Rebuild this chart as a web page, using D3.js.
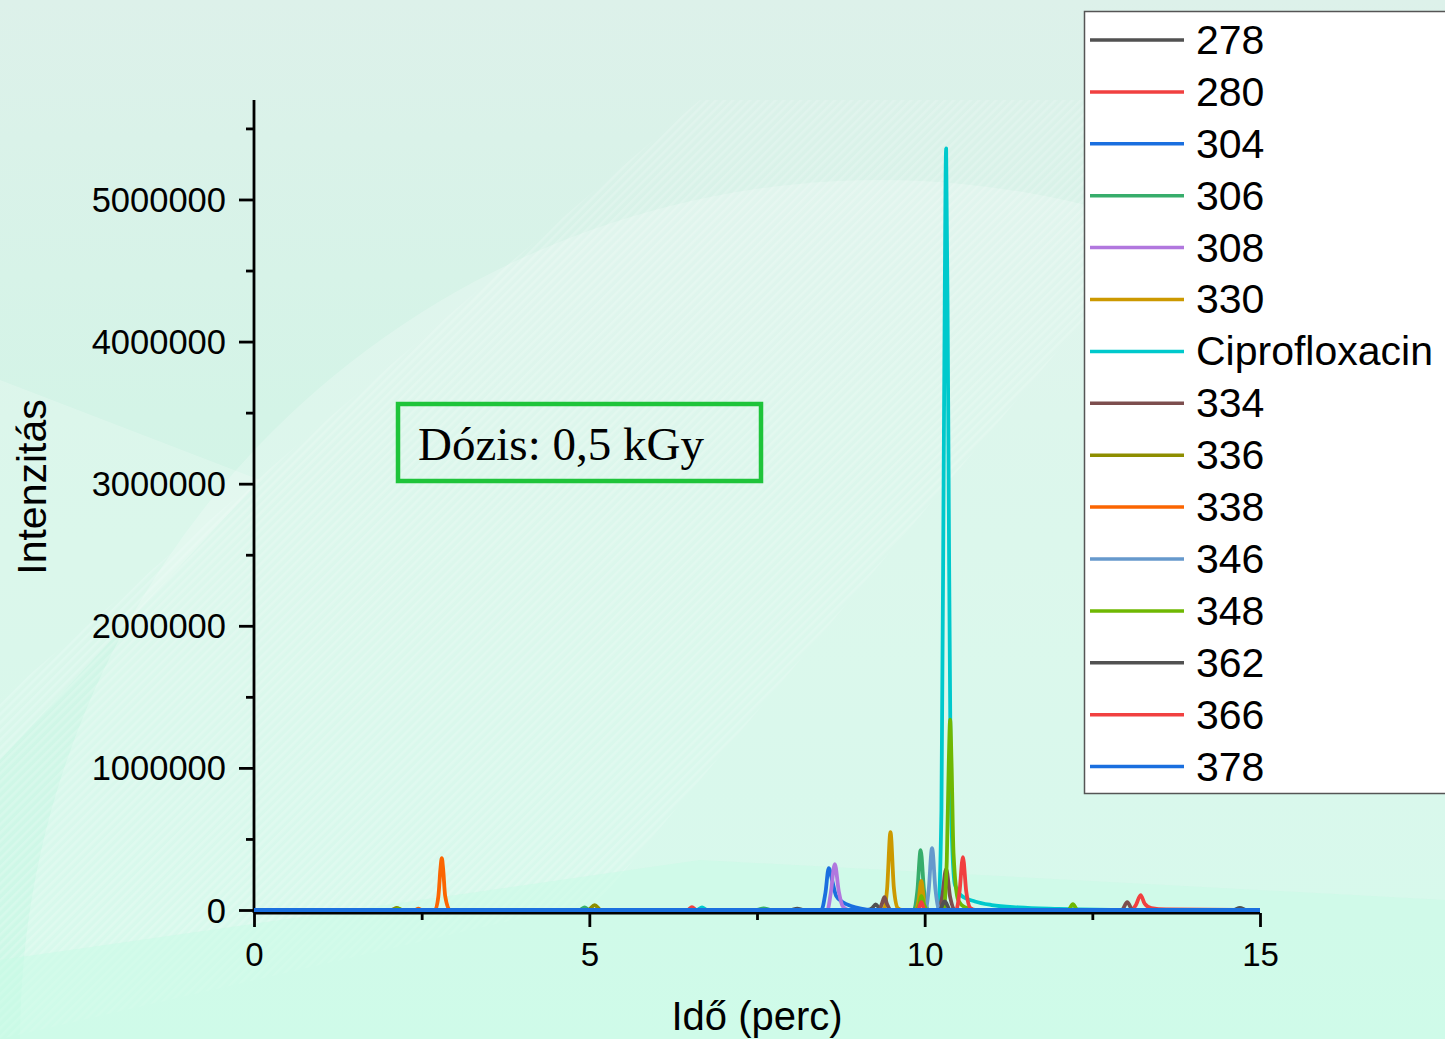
<!DOCTYPE html>
<html><head><meta charset="utf-8">
<script src="https://cdn.jsdelivr.net/npm/d3@7"></script>
<style>html,body{margin:0;padding:0;overflow:hidden;background:#d4f5e9}</style>
</head><body>
<script>
// ---------- DATA ----------
const seriesNames = ["278","280","304","306","308","330","Ciprofloxacin","334","336","338","346","348","362","366","378"];
const seriesColors = ["#515151","#F14040","#1A6FDF","#37AD6B","#B177DE","#CC9900","#00C9CC","#7D4E4E","#8E8E00","#FB6501","#6699CC","#6FB802","#515151","#F14040","#1A6FDF"];
const xTicks = [0,5,10,15];
const xMinor = [2.5,7.5,12.5];
const yTicks = [0,1000000,2000000,3000000,4000000,5000000];
const yMinor = [500000,1500000,2500000,3500000,4500000,5500000];
const annotation = "Dózis: 0,5 kGy";
const xTitle = "Idő (perc)";
const yTitle = "Intenzitás";

// [time (min), intensity]
const s278 = [[0,0],[9.15,0],[9.22,15000],[9.27,40000],[9.32,15000],[9.4,0],[14.6,0],[14.7,15000],[14.8,0],[15,0]];
const s280 = [[0,0],[13.08,0],[13.15,35000],[13.22,105000],[13.28,45000],[13.38,14000],[13.6,4000],[15,0]];
const s304 = [[0,0],[8.46,0],[8.52,120000],[8.57,295000],[8.62,210000],[8.68,100000],[8.78,55000],[8.9,28000],[9.05,9000],[9.2,0],[15,0]];
const s306 = [[0,0],[4.85,0],[4.93,18000],[5.0,0],[7.5,0],[7.6,12000],[7.7,0],[9.84,0],[9.89,130000],[9.94,421000],[9.99,140000],[10.05,0],[15,0]];
const s308 = [[0,0],[8.55,0],[8.6,120000],[8.66,323000],[8.72,130000],[8.78,25000],[8.86,0],[15,0]];
const s330 = [[0,0],[9.39,0],[9.44,150000],[9.49,548000],[9.54,160000],[9.6,12000],[9.66,0],[9.87,0],[9.91,70000],[9.95,204000],[9.99,70000],[10.05,0],[15,0]];
const sCipro = [[0,0],[6.6,0],[6.68,18000],[6.76,0],[10.2,0],[10.25,700000],[10.29,3600000],[10.32,5360000],[10.35,3600000],[10.39,800000],[10.45,180000],[10.55,100000],[10.75,60000],[11.0,35000],[11.4,18000],[12.0,8000],[13.0,0],[15,0]];
const s334 = [[0,0],[9.32,0],[9.36,40000],[9.4,90000],[9.44,40000],[9.5,0],[10.21,0],[10.26,90000],[10.32,288000],[10.38,90000],[10.45,0],[12.94,0],[13.02,56000],[13.1,0],[15,0]];
const s336 = [[0,0],[2.05,0],[2.13,15000],[2.2,0],[4.98,0],[5.08,35000],[5.17,0],[15,0]];
const s338 = [[0,0],[2.4,0],[2.45,10000],[2.5,0],[2.7,0],[2.75,100000],[2.78,290000],[2.8,365000],[2.82,290000],[2.85,100000],[2.92,0],[15,0]];
const s346 = [[0,0],[10.01,0],[10.06,140000],[10.11,435000],[10.16,150000],[10.22,0],[15,0]];
const s348 = [[0,0],[2.08,0],[2.15,8000],[2.22,0],[9.88,0],[9.92,40000],[9.95,100000],[9.99,40000],[10.04,0],[10.28,0],[10.33,350000],[10.36,1050000],[10.38,1340000],[10.4,1050000],[10.43,400000],[10.5,70000],[10.6,20000],[10.8,0],[12.14,0],[12.21,42000],[12.28,0],[15,0]];
const s362 = [[0,0],[8.0,0],[8.1,10000],[8.2,0],[10.22,0],[10.3,60000],[10.38,0],[15,0]];
const s366 = [[0,0],[6.46,0],[6.53,20000],[6.6,0],[9.9,0],[9.95,56000],[10.0,0],[10.47,0],[10.52,130000],[10.57,372000],[10.62,130000],[10.68,15000],[10.76,0],[15,0]];
const s378 = [[0,0],[15,0]];
const seriesData = [s278,s280,s304,s306,s308,s330,sCipro,s334,s336,s338,s346,s348,s362,s366,s378];

// ---------- LAYOUT ----------
const W = 1445, H = 1039;
const svg = d3.select("body").append("svg").attr("width", W).attr("height", H);
const defs = svg.append("defs");

// background
const bg = defs.append("linearGradient").attr("id","bg").attr("x1",0).attr("y1",0).attr("x2",0).attr("y2",1);
bg.append("stop").attr("offset","0%").attr("stop-color","#ddf1ea");
bg.append("stop").attr("offset","40%").attr("stop-color","#d4f4e7");
bg.append("stop").attr("offset","100%").attr("stop-color","#ccf9e7");
svg.append("rect").attr("width",W).attr("height",H).attr("fill","url(#bg)");
const pat = defs.append("pattern").attr("id","hatch").attr("patternUnits","userSpaceOnUse")
  .attr("width",6).attr("height",6).attr("patternTransform","rotate(45)");
pat.append("rect").attr("width",2.5).attr("height",6).attr("fill","#ffffff").attr("opacity",0.35);
svg.append("path").attr("d","M0,700 L700,100 L1100,100 L1100,300 L600,900 L0,1039 Z")
  .attr("fill","url(#hatch)").attr("opacity",0.5);
svg.append("circle").attr("cx",880).attr("cy",1040).attr("r",860).attr("fill","#ffffff").attr("opacity",0.22);
svg.append("path").attr("d","M0,380 L260,480 L0,760 Z").attr("fill","#ffffff").attr("opacity",0.2);
svg.append("path").attr("d","M0,1039 L0,960 L700,860 L1445,900 L1445,1039 Z").attr("fill","#c8fbe6").attr("opacity",0.5);

const x0 = 254, x1 = 1260, yBase = 910, yAxisY = 913, yTop = 100;
const x = d3.scaleLinear().domain([0,15]).range([x0,x1]);
const y = d3.scaleLinear().domain([0,5700000]).range([yBase,yTop]);

// axes
const font = "'Liberation Sans', Arial, sans-serif";
const xAxis = svg.append("g").attr("transform",`translate(0,${yAxisY})`)
  .call(d3.axisBottom(x).tickValues(xTicks).tickSize(14).tickPadding(16).tickFormat(d3.format("d")));
const xAxisMinor = svg.append("g").attr("transform",`translate(0,${yAxisY})`)
  .call(d3.axisBottom(x).tickValues(xMinor).tickSize(7).tickFormat(""));
const yAxis = svg.append("g").attr("transform",`translate(${x0},0)`)
  .call(d3.axisLeft(y).tickValues(yTicks).tickSize(15).tickPadding(13).tickFormat(d3.format("d")));
const yAxisMinor = svg.append("g").attr("transform",`translate(${x0},0)`)
  .call(d3.axisLeft(y).tickValues(yMinor).tickSize(8).tickFormat(""));
[xAxis,xAxisMinor,yAxis,yAxisMinor].forEach(g=>{
  g.selectAll(".domain").attr("stroke","#000").attr("stroke-width",2.8);
  g.selectAll(".tick line").attr("stroke","#000").attr("stroke-width",2.8);
  g.selectAll("text").attr("font-family",font).attr("fill","#000");
});
xAxis.selectAll("text").attr("font-size",33);
yAxis.selectAll("text").attr("font-size",34.5).attr("dy","0.35em");
xAxis.select(".domain").attr("d",`M${x0},0H${x1}`);
xAxisMinor.select(".domain").remove();
yAxis.select(".domain").attr("d",`M0,${yAxisY}V${yTop}`);
yAxisMinor.select(".domain").remove();

// lines (drawn over axes like the original)
const line = d3.line().x(d=>x(d[0])).y(d=>y(d[1])).curve(d3.curveMonotoneX);
const gLines = svg.append("g");
seriesData.forEach((s,i)=>{
  gLines.append("path").datum(s).attr("d",line).attr("fill","none")
    .attr("stroke",seriesColors[i]).attr("stroke-width",3.8).attr("stroke-linejoin","round");
});

// titles
svg.append("text").attr("x",(x0+x1)/2).attr("y",1030).attr("text-anchor","middle")
  .attr("font-family",font).attr("font-size",40).text(xTitle);
svg.append("text").attr("transform",`translate(46,${487}) rotate(-90)`).attr("text-anchor","middle")
  .attr("font-family",font).attr("font-size",41).text(yTitle);

// annotation box
svg.append("rect").attr("x",398).attr("y",404).attr("width",363).attr("height",77)
  .attr("fill","none").attr("stroke","#1ec43a").attr("stroke-width",4.5);
svg.append("text").attr("x",418).attr("y",460).attr("font-family","'Liberation Serif','Times New Roman',serif")
  .attr("font-size",47).attr("fill","#000").text(annotation);

// legend
const lg = svg.append("g");
lg.append("rect").attr("x",1084.5).attr("y",11.5).attr("width",370).attr("height",782)
  .attr("fill","#fff").attr("stroke","#555").attr("stroke-width",1.5);
seriesNames.forEach((n,i)=>{
  const cy = 40 + i*51.9;
  lg.append("line").attr("x1",1090).attr("x2",1184).attr("y1",cy).attr("y2",cy)
    .attr("stroke",seriesColors[i]).attr("stroke-width",3.5);
  lg.append("text").attr("x",1196).attr("y",cy).attr("dy","0.34em")
    .attr("font-family",font).attr("font-size",41).attr("fill","#000").text(n);
});
</script>
</body></html>
